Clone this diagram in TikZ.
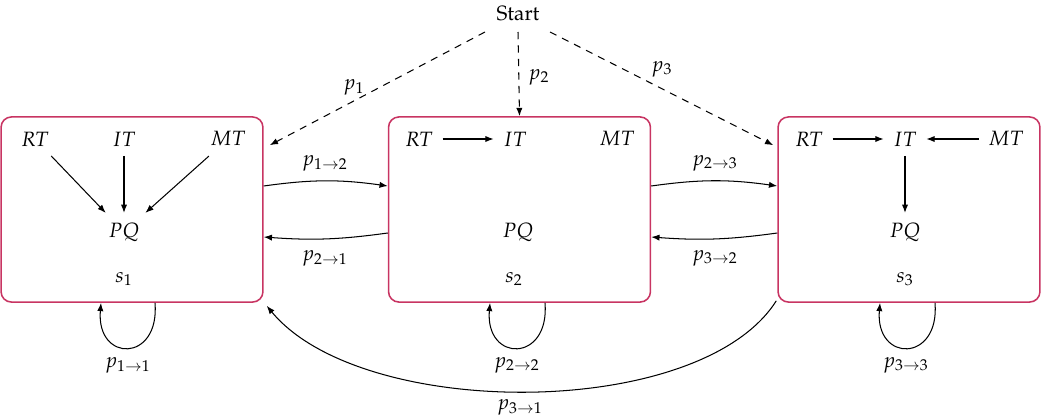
\documentclass[tikz,border=0pt]{standalone}
\usepackage[T1]{fontenc}
\usepackage{mathpazo}
\usetikzlibrary{arrows.meta,calc}
\definecolor{boxc}{RGB}{200,52,98}
\begin{document}
\begin{tikzpicture}[x=0.483pt,y=-0.483pt,
  box/.style={draw=boxc,line width=0.75pt,rounded corners=5pt,minimum width=126.5pt,minimum height=89.4pt,inner sep=0pt},
  lbl/.style={inner sep=4.5pt},
  plain/.style={inner sep=1pt},
  arr/.style={-{Latex[length=4pt,width=3pt]},line width=0.5pt},
  dsh/.style={arr,dash pattern=on 3.5pt off 3pt}]
\useasboundingbox (0,0) rectangle (1045,417);
% boxes
\node[box] (b1) at (132,209.5) {};
\node[box] (b2) at (519.5,209.5) {};
\node[box] (b3) at (909,209.5) {};
% start
\node[plain] (st) at (518,14) {Start};
% box 1 contents
\node[lbl] (r1) at (35,139) {$RT$};
\node[lbl] (i1) at (124,139) {$IT$};
\node[lbl] (m1) at (228,139) {$MT$};
\node[lbl] (q1) at (124,232) {$PQ$};
\node[plain] (s1) at (124,279) {$s_1$};
\draw[arr] (r1) -- (q1);
\draw[arr] (i1) -- (q1);
\draw[arr] (m1) -- (q1);
% box 2 contents
\node[lbl] (r2) at (419,139) {$RT$};
\node[lbl] (i2) at (515,139) {$IT$};
\node[lbl] (m2) at (617,139) {$MT$};
\node[lbl] (q2) at (518,232) {$PQ$};
\node[plain] (s2) at (514,279) {$s_2$};
\draw[arr] (r2) -- (i2);
% box 3 contents
\node[lbl] (r3) at (809,139) {$RT$};
\node[lbl] (i3) at (905,139) {$IT$};
\node[lbl] (m3) at (1006,139) {$MT$};
\node[lbl] (q3) at (905,232) {$PQ$};
\node[plain] (s3) at (905,279) {$s_3$};
\draw[arr] (r3) -- (i3);
\draw[arr] (m3) -- (i3);
\draw[arr] (i3) -- (q3);
% start arrows
\draw[dsh] ($(st)+(-33,18)$) -- ($(b1.north east)+(6,29)$);
\draw[dsh] ($(st)+(0,18)$) -- (b2.north);
\draw[dsh] ($(st)+(32,18)$) -- ($(b3.north west)+(-4,29)$);
\node[plain] (lp1) at (354,87) {$p_1$};
\node[plain] (lp2) at (539,77) {$p_2$};
\node[plain] (lp3) at (662,69) {$p_3$};
% transitions between boxes
\draw[arr] ($(b1.east)+(0,-23.5)$) to[bend left=8] ($(b2.west)+(0,-23.5)$);
\draw[arr] ($(b2.west)+(0,23.5)$) to[bend left=6] ($(b1.east)+(0,27.5)$);
\draw[arr] ($(b2.east)+(0,-23.5)$) to[bend left=8] ($(b3.west)+(0,-23.5)$);
\draw[arr] ($(b3.west)+(0,23.5)$) to[bend left=6] ($(b2.east)+(0,27.5)$);
\node[plain] (l12) at (325,163) {$p_{1\to2}$};
\node[plain] (l21) at (325,258) {$p_{2\to1}$};
\node[plain] (l23) at (715,163) {$p_{2\to3}$};
\node[plain] (l32) at (715,258) {$p_{3\to2}$};
% self loops
\draw[arr] ($(b1.south)+(23,0)$) .. controls +(5,60) and +(-5,60) .. ($(b1.south)+(-31,0)$);
\draw[arr] ($(b2.south)+(25.5,0)$) .. controls +(5,60) and +(-5,60) .. ($(b2.south)+(-29.5,0)$);
\draw[arr] ($(b3.south)+(26,0)$) .. controls +(5,60) and +(-5,60) .. ($(b3.south)+(-29,0)$);
\node[plain] (l11) at (128,365) {$p_{1\to1}$};
\node[plain] (l22) at (517,365) {$p_{2\to2}$};
\node[plain] (l33) at (906,365) {$p_{3\to3}$};
% long return
\draw[arr] ($(b3.south west)+(-1,-2)$) .. controls +(-76,120) and +(95,115) .. ($(b1.south east)+(3,3)$);
\node[plain] (l31) at (520,407) {$p_{3\to1}$};
\end{tikzpicture}
\end{document}
